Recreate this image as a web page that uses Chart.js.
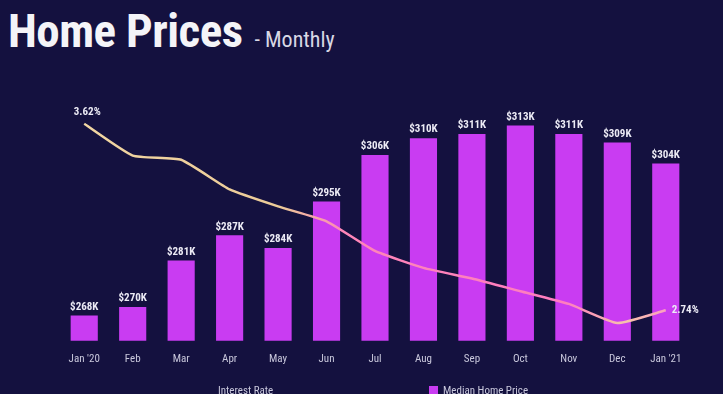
<!DOCTYPE html>
<html>
<head>
<meta charset="utf-8">
<script src="https://cdn.jsdelivr.net/npm/chart.js@4.4.1/dist/chart.umd.min.js"></script>
<style>
  html, body { margin: 0; padding: 0; background: #14113f; overflow: hidden; }
  body { width: 723px; height: 394px; position: relative; }
  .title {
    position: absolute; left: 8px; top: 3px; color: #f4f4f8; white-space: nowrap;
    font-family: 'Liberation Sans Narrow', 'Roboto Condensed', Roboto, sans-serif;
  }
  .title b { font-size: 47px; font-weight: 700; letter-spacing: -0.5px; }
  .title span { font-size: 22px; color: #d8d8e4; margin-left: 12px; }
  #wrap { position: absolute; left: 0; top: 0; width: 723px; height: 394px; }
  .legend {
    position: absolute; top: 384px; left: 0; width: 723px; height: 20px;
    font: 11px 'Liberation Sans Narrow', 'Roboto Condensed', Roboto, sans-serif; color: #c9c8dc;
  }
  .legend div { position: absolute; white-space: nowrap; }
  .legend i { display: inline-block; width: 9px; height: 9px; background: #c93cf2; margin-right: 5px; vertical-align: -1px; }
</style>
</head>
<body>
<div class="title"><b>Home Prices</b><span>- Monthly</span></div>
<div id="wrap"><canvas id="homeChart"></canvas></div>
<div class="legend">
  <div style="left:218px">Interest Rate</div>
  <div style="left:429px"><i></i>Median Home Price</div>
</div>
<script>
const months       = ["Jan '20", 'Feb', 'Mar', 'Apr', 'May', 'Jun', 'Jul', 'Aug', 'Sep', 'Oct', 'Nov', 'Dec', "Jan '21"];
const medianPrice  = [268, 270, 281, 287, 284, 295, 306, 310, 311, 313, 311, 309, 304]; // $K
const interestRate = [3.62, 3.47, 3.45, 3.31, 3.23, 3.16, 3.02, 2.94, 2.89, 2.83, 2.77, 2.68, 2.74]; // %

const FONT = "'Liberation Sans Narrow', 'Roboto Condensed', Roboto, sans-serif";
const BAR = '#c93cf2';

// bar value labels + first/last rate labels, positioned from the chart's own elements
const valueLabels = {
  id: 'valueLabels',
  afterDatasetsDraw(chart) {
    const ctx = chart.ctx;
    ctx.save();
    ctx.font = 'bold 11px ' + FONT;
    ctx.fillStyle = '#ecebf5';
    ctx.textAlign = 'center';
    ctx.textBaseline = 'bottom';
    chart.getDatasetMeta(1).data.forEach((bar, i) => {
      ctx.fillText('$' + medianPrice[i] + 'K', bar.x, bar.y - 3);
    });
    const pts = chart.getDatasetMeta(0).data;
    const first = pts[0], last = pts[pts.length - 1];
    ctx.fillText(interestRate[0].toFixed(2) + '%', first.x + 3, first.y - 6);
    ctx.textAlign = 'left';
    ctx.textBaseline = 'middle';
    ctx.fillText(interestRate[interestRate.length - 1].toFixed(2) + '%', last.x + 6, last.y);
    ctx.restore();
  },
};

const ctxHome = document.getElementById('homeChart').getContext('2d');

new Chart(ctxHome, {
  type: 'bar',
  data: {
    labels: months,
    datasets: [
      {
        type: 'line',
        label: 'Interest Rate',
        data: interestRate,
        yAxisID: 'yRate',
        borderWidth: 2.5,
        tension: 0.15,
        pointRadius: 0,
        fill: false,
        borderColor(context) {
          const area = context.chart.chartArea;
          if (!area) return '#f0d29c';
          const g = context.chart.ctx.createLinearGradient(area.left, 0, area.right, 0);
          g.addColorStop(0, '#f2d8a4');
          g.addColorStop(0.35, '#eccb98');
          g.addColorStop(0.45, '#ff86b8');
          g.addColorStop(0.8, '#ff7cc0');
          g.addColorStop(0.9, '#f6c4aa');
          g.addColorStop(1, '#ff88cc');
          return g;
        },
        order: 0,
      },
      {
        type: 'bar',
        label: 'Median Home Price',
        data: medianPrice,
        yAxisID: 'yPrice',
        backgroundColor: BAR,
        barPercentage: 0.56,
        categoryPercentage: 1,
        order: 1,
      },
    ],
  },
  options: {
    responsive: true,
    maintainAspectRatio: false,
    animation: false,
    layout: { padding: { left: 60, right: 33, top: 96, bottom: 24 } },
    plugins: {
      tooltip: { enabled: false },
      legend: { display: false },
    },
    scales: {
      x: {
        grid: { display: false },
        border: { display: false },
        ticks: { color: '#c9c8dc', font: { family: FONT, size: 11 }, padding: 4 },
      },
      yPrice: { axis: 'y', position: 'left', display: false, min: 262, max: 320 },
      yRate: { axis: 'y', position: 'right', display: false, min: 2.596, max: 3.751 },
    },
  },
  plugins: [valueLabels],
});
</script>
</body>
</html>
